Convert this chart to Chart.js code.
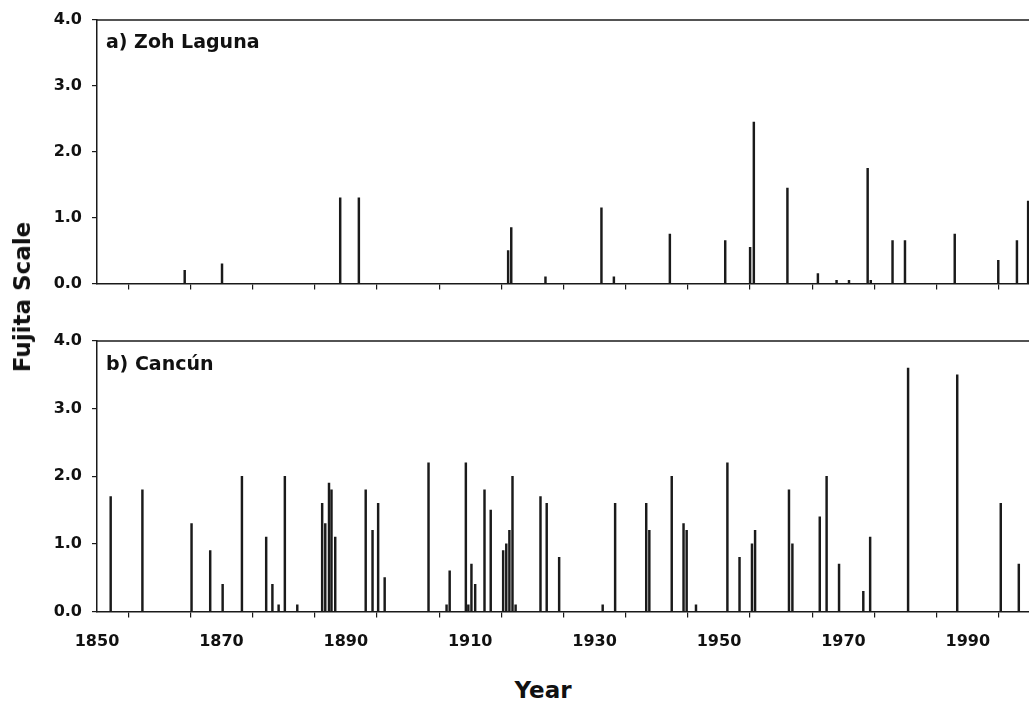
<!DOCTYPE html>
<html>
<head>
<meta charset="utf-8">
<script src="https://cdn.jsdelivr.net/npm/chart.js@4.4.1/dist/chart.umd.min.js"></script>
<style>
  html, body { margin: 0; padding: 0; background: #fff; overflow: hidden; width: 1029px; height: 705px; }
  .wrap { position: absolute; left: 0; }
  .lbl { position: absolute; font-family: "DejaVu Sans", sans-serif; font-weight: bold; color: #111; white-space: nowrap; }
</style>
</head>
<body>
<div class="wrap" style="top:0px;width:1031px;height:300px;"><canvas id="cA" width="1031" height="300"></canvas></div>
<div class="wrap" style="top:321px;width:1031px;height:345px;"><canvas id="cB" width="1031" height="345"></canvas></div>
<div class="lbl" style="left:106px;top:41px;font-size:19px;transform:translateY(-50%);">a) Zoh Laguna</div>
<div class="lbl" style="left:106px;top:363px;font-size:19px;transform:translateY(-50%);">b) Cancún</div>
<div class="lbl" id="ytitle" style="font-size:23px;left:22px;top:297px;transform:translate(-50%,-50%) rotate(-90deg);">Fujita Scale</div>
<div class="lbl" style="font-size:23px;left:543px;top:690px;transform:translate(-50%,-50%);">Year</div>
<script>
// ---- data ----
const zohYears   = [1864.1, 1870.1, 1889.1, 1892.1, 1916.1, 1916.6, 1922.1, 1931.1, 1933.1, 1942.1,
                    1951.0, 1955.0, 1955.6, 1961.0, 1965.9, 1968.9, 1970.9, 1973.9, 1974.4, 1977.9,
                    1979.9, 1987.9, 1994.9, 1997.9, 1999.7];
const zohValues  = [0.2, 0.3, 1.3, 1.3, 0.5, 0.85, 0.1, 1.15, 0.1, 0.75,
                    0.65, 0.55, 2.45, 1.45, 0.15, 0.05, 0.05, 1.75, 0.05, 0.65,
                    0.65, 0.75, 0.35, 0.65, 1.25];
const cancunYears  = [1852.2, 1857.3, 1865.2, 1868.2, 1870.2, 1873.3, 1877.2, 1878.2, 1879.2, 1880.2,
                      1882.2, 1886.2, 1886.7, 1887.3, 1887.7, 1888.3, 1893.2, 1894.3, 1895.2, 1896.25,
                      1903.3, 1906.2, 1906.7, 1909.3, 1909.7, 1910.2, 1910.8, 1912.3, 1913.3, 1915.3,
                      1915.8, 1916.3, 1916.8, 1917.3, 1921.3, 1922.3, 1924.3, 1931.3, 1933.3, 1938.3,
                      1938.8, 1942.4, 1944.3, 1944.8, 1946.3, 1951.35, 1953.3, 1955.3, 1955.8, 1961.25,
                      1961.8, 1966.2, 1967.3, 1969.3, 1973.2, 1974.3, 1980.4, 1988.3, 1995.3, 1998.2];
const cancunValues = [1.7, 1.8, 1.3, 0.9, 0.4, 2.0, 1.1, 0.4, 0.1, 2.0,
                      0.1, 1.6, 1.3, 1.9, 1.8, 1.1, 1.8, 1.2, 1.6, 0.5,
                      2.2, 0.1, 0.6, 2.2, 0.1, 0.7, 0.4, 1.8, 1.5, 0.9,
                      1.0, 1.2, 2.0, 0.1, 1.7, 1.6, 0.8, 0.1, 1.6, 1.6,
                      1.2, 2.0, 1.3, 1.2, 0.1, 2.2, 0.8, 1.0, 1.2, 1.8,
                      1.0, 1.4, 2.0, 0.7, 0.3, 1.1, 3.6, 3.5, 1.6, 0.7];
const xLabelYears = [1850, 1870, 1890, 1910, 1930, 1950, 1970, 1990];
const yMin = 0, yMax = 4, yStep = 1;
const xMin = 1850, xMax = 2000, xStep = 10;

// ---- styling ----
const INK = '#1a1a1a';
const tickFont = { family: 'DejaVu Sans', size: 16, weight: 'bold' };

const framePlugin = {
  id: 'frameTop',
  afterDraw(chart) {
    const { ctx, chartArea } = chart;
    ctx.save();
    ctx.strokeStyle = INK;
    ctx.lineWidth = 1.5;
    ctx.beginPath();
    ctx.moveTo(chartArea.left, chartArea.top);
    ctx.lineTo(chartArea.right + 2, chartArea.top);
    ctx.stroke();
    ctx.restore();
  }
};

function makeChart(id, years, values, showXLabels, xAxisHeight) {
  const pts = years.map((y, i) => ({ x: y, y: values[i] }));
  return new Chart(document.getElementById(id), {
    type: 'bar',
    data: { datasets: [{ data: pts, backgroundColor: INK, borderWidth: 0, barThickness: 1.8 }] },
    options: {
      responsive: false,
      animation: false,
      events: [],
      layout: { padding: { top: 20, right: 1, left: 0, bottom: 0 } },
      plugins: { legend: { display: false }, tooltip: { enabled: false } },
      scales: {
        x: {
          type: 'linear', min: xMin, max: xMax, offset: false,
          afterFit(s) { s.height = xAxisHeight; s.paddingRight = 0; s.paddingLeft = 0; },
          grid: { display: true, drawOnChartArea: false, drawTicks: true, tickLength: 6, color: INK, lineWidth: 1.2 },
          border: { display: true, color: INK, width: 1.5 },
          ticks: {
            stepSize: xStep, autoSkip: false, maxRotation: 0, minRotation: 0,
            padding: 15, color: '#111', font: tickFont,
            callback: (v) => (showXLabels && xLabelYears.includes(v)) ? String(v) : ''
          }
        },
        y: {
          min: yMin, max: yMax,
          afterFit(s) { s.width = 97; s.paddingTop = 0; s.paddingBottom = 0; },
          grid: { display: true, drawOnChartArea: false, drawTicks: true, tickLength: 5, color: INK, lineWidth: 1.2 },
          border: { display: true, color: INK, width: 1.5 },
          ticks: { stepSize: yStep, padding: 10, color: '#111', font: tickFont, callback: (v) => Number(v).toFixed(1) }
        }
      }
    },
    plugins: [framePlugin]
  });
}

makeChart('cA', zohYears, zohValues, false, 16.5);
makeChart('cB', cancunYears, cancunValues, true, 54.5);
</script>
</body>
</html>
